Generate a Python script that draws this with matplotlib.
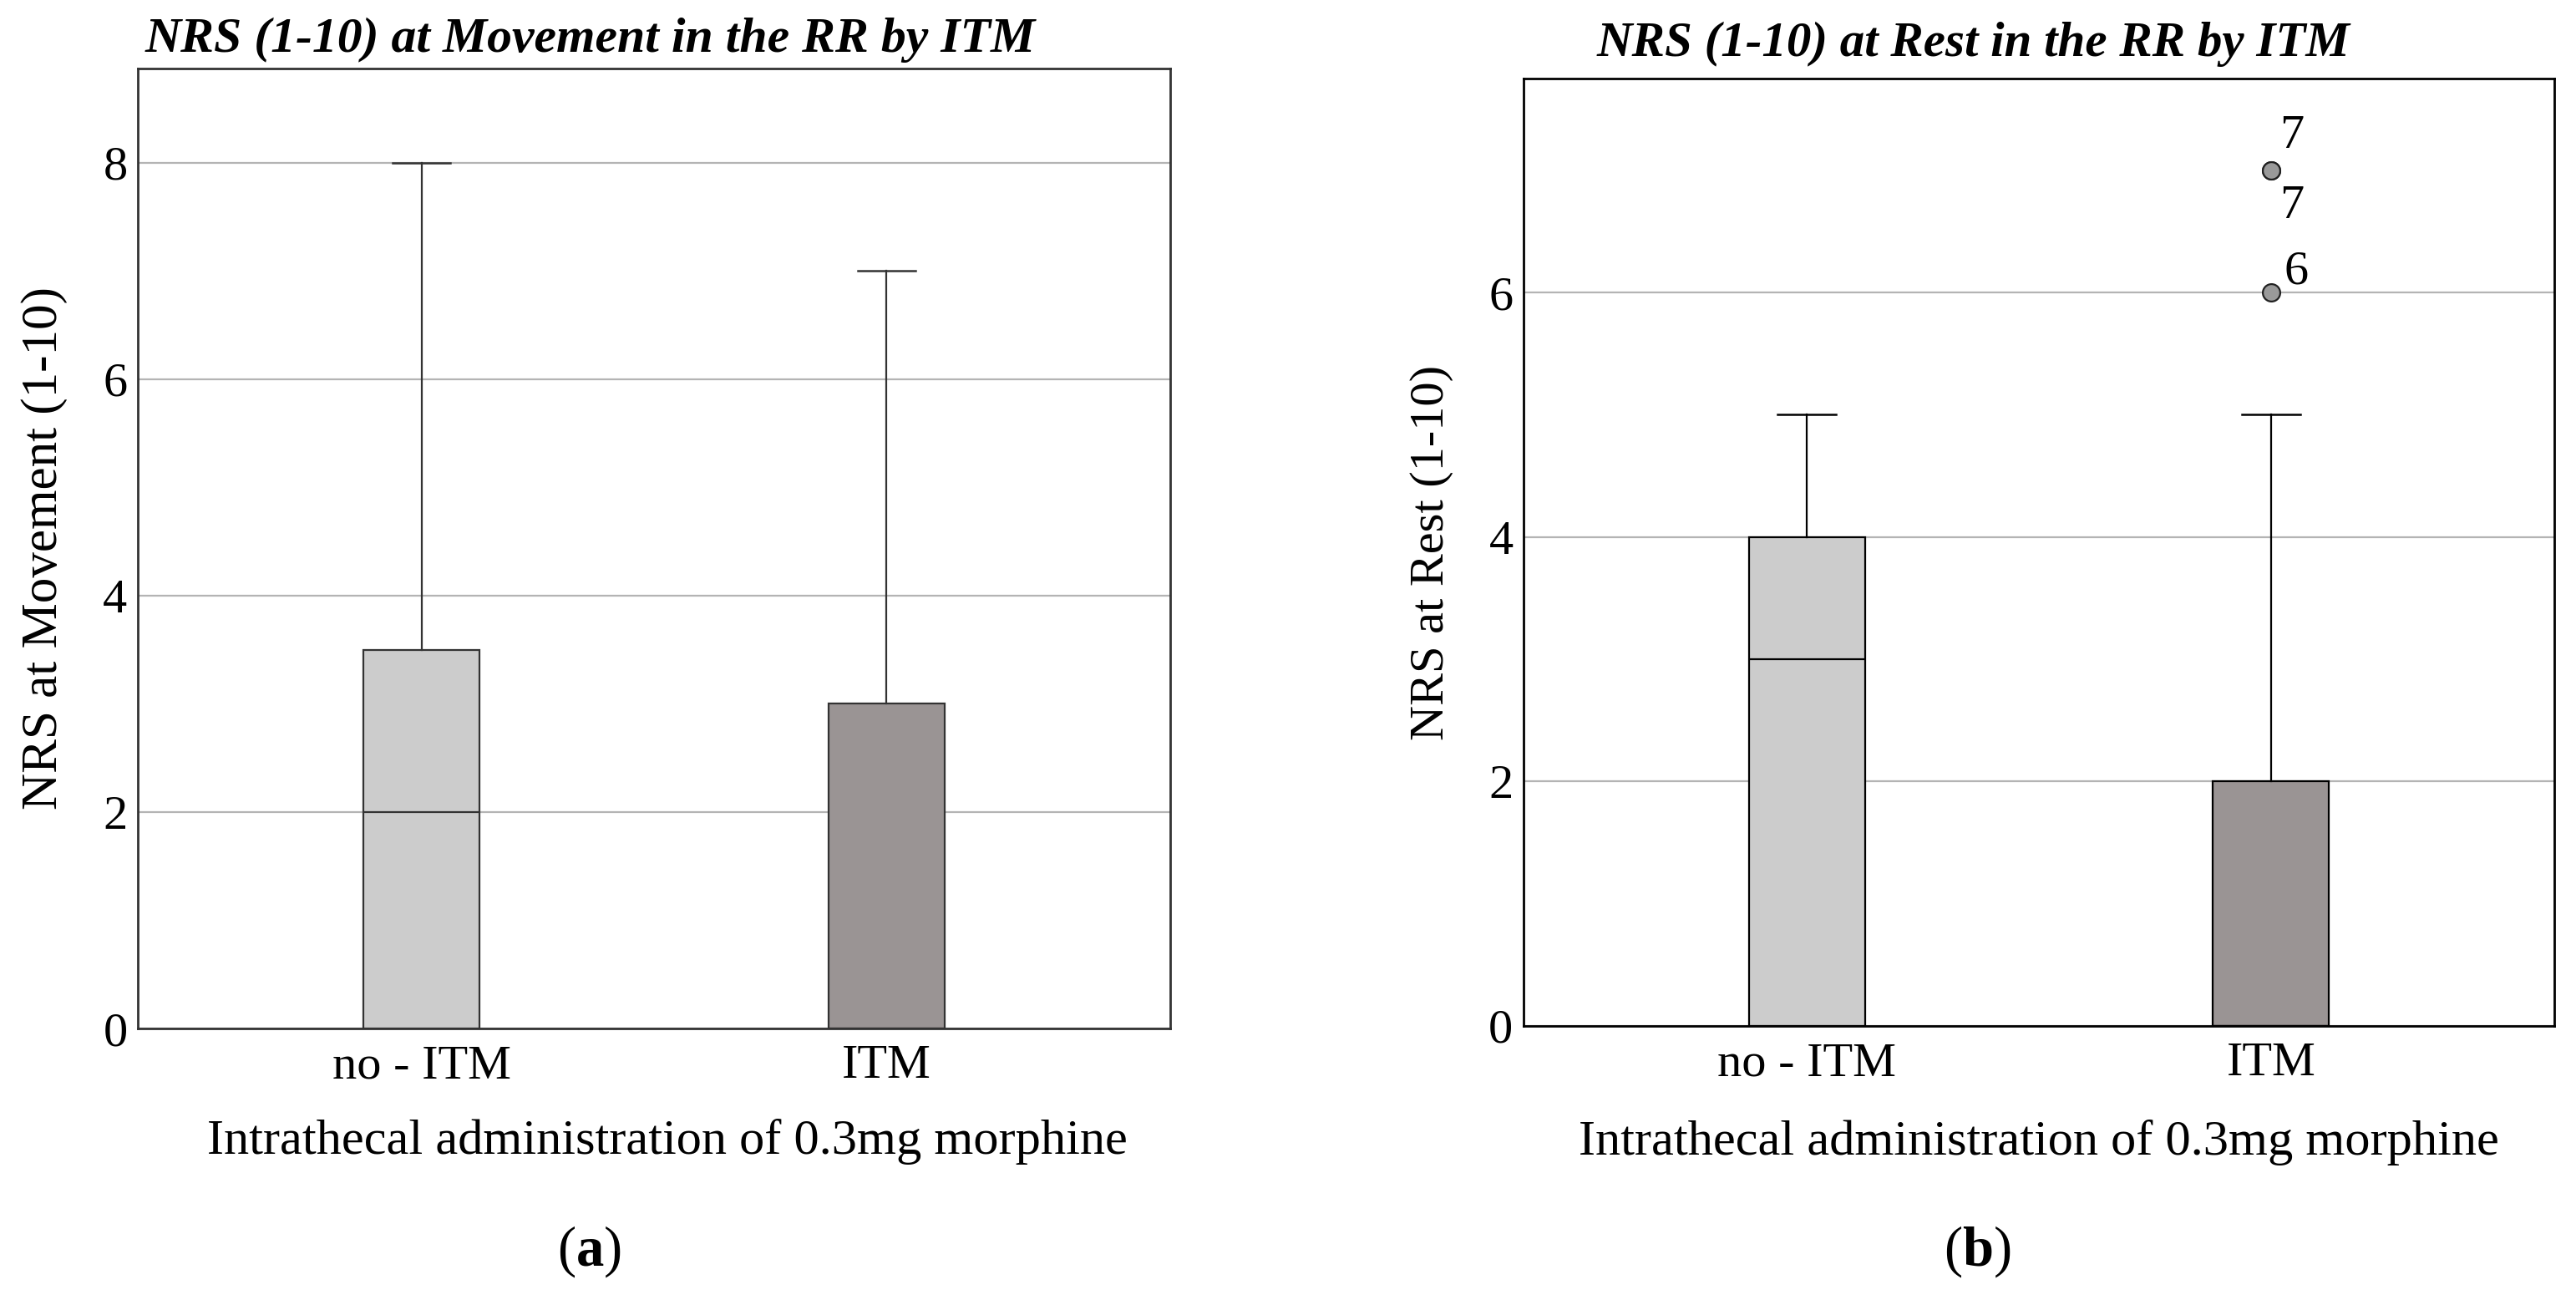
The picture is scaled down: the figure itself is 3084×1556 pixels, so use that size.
import matplotlib
matplotlib.use("Agg")
import matplotlib.pyplot as plt

# ---- data ----
groups = ["no - ITM", "ITM"]

# Panel (a): NRS at movement
mov_whislo = [0, 0]
mov_q1 = [0, 0]
mov_med = [2, 0]
mov_q3 = [3.5, 3]
mov_whishi = [8, 7]
mov_fliers = [[], []]

# Panel (b): NRS at rest
rest_whislo = [0, 0]
rest_q1 = [0, 0]
rest_med = [3, 0]
rest_q3 = [4, 2]
rest_whishi = [5, 5]
rest_fliers = [[], [7, 7, 6]]
rest_flier_labels = [[], ["7", "7", "6"]]

box_colors = ["#cccccc", "#9a9494"]

titles = ["NRS (1-10) at Movement in the RR by ITM", "NRS (1-10) at Rest in the RR by ITM"]
ylabels = ["NRS at Movement (1-10)", "NRS at Rest (1-10)"]
xlabel = "Intrathecal administration of 0.3mg morphine"
panel_letters = ["a", "b"]

plt.rcParams['font.family'] = ['Liberation Serif', 'DejaVu Serif']
plt.rcParams['mathtext.fontset'] = 'custom'
plt.rcParams['mathtext.rm'] = 'Liberation Serif'
plt.rcParams['mathtext.bf'] = 'Liberation Serif:bold'

W, H = 3084, 1556
fig = plt.figure(figsize=(W / 100, H / 100), dpi=100)

ax_a = fig.add_axes([165 / W, 1 - 1231 / H, (1401 - 165) / W, (1231 - 82) / H])
ax_b = fig.add_axes([1824 / W, 1 - 1228 / H, (3058 - 1824) / W, (1228 - 94) / H])


def make_stats(wl, q1, med, q3, wh, fl):
    out = []
    for i in range(len(wl)):
        out.append(dict(whislo=wl[i], q1=q1[i], med=med[i], q3=q3[i], whishi=wh[i], fliers=fl[i]))
    return out


def draw(ax, stats, ylim, yticks, linecol, spinecol):
    bp = ax.bxp(stats, positions=[0, 1], widths=0.25, patch_artist=True, showfliers=True,
                boxprops=dict(edgecolor=linecol, linewidth=1.6),
                medianprops=dict(color=linecol, linewidth=1.6),
                whiskerprops=dict(color=linecol, linewidth=1.6),
                capprops=dict(color=linecol, linewidth=1.8),
                capwidths=0.125,
                flierprops=dict(marker='o', markersize=15, markerfacecolor='#9a9a9a',
                                markeredgecolor='#222222', markeredgewidth=1.6, linestyle='none'),
                zorder=3)
    for patch, c in zip(bp['boxes'], box_colors):
        patch.set_facecolor(c)
    ax.set_xlim(-0.61, 1.61)
    ax.set_ylim(*ylim)
    ax.set_yticks(yticks)
    ax.set_xticks([0, 1])
    ax.set_xticklabels(groups)
    ax.tick_params(axis='both', length=0, labelsize=42)
    ax.tick_params(axis='y', pad=9)
    ax.tick_params(axis='x', pad=14)
    ax.yaxis.grid(True, color='#b4b4b4', linewidth=1.6, zorder=0)
    ax.set_axisbelow(True)
    for s in ax.spines.values():
        s.set_color(spinecol)
        s.set_linewidth(2.0)
    return bp


draw(ax_a, make_stats(mov_whislo, mov_q1, mov_med, mov_q3, mov_whishi, mov_fliers),
     (0, 8.87), [0, 2, 4, 6, 8], '#333333', '#333333')
draw(ax_b, make_stats(rest_whislo, rest_q1, rest_med, rest_q3, rest_whishi, rest_fliers),
     (0, 7.75), [0, 2, 4, 6], 'black', 'black')

# outlier labels (panel b)
offsets = [(7, 29), (7, -31), (11, 18)]
for val, lab, off in zip(rest_fliers[1], rest_flier_labels[1], offsets):
    ax_b.annotate(lab, xy=(1, val), xytext=off, textcoords='offset points',
                  ha='left', va='center', fontsize=42)

for ax, yl, ysize, xl_x, ycoord_x, ycoord_y in [(ax_a, ylabels[0], 44, 0.513, -0.0906, -0.118),
                                                (ax_b, ylabels[1], 42, 0.5, -0.0891, -0.1226)]:
    ax.set_ylabel(yl, fontsize=ysize)
    ax.yaxis.set_label_coords(ycoord_x, 0.5)
    ax.yaxis.label.set_va('center')
    ax.set_xlabel(xlabel, fontsize=43.5)
    ax.xaxis.set_label_coords(xl_x, ycoord_y)
    ax.xaxis.label.set_va('center')

# titles
fig.text(174 / W, 1 - 48 / H, titles[0], ha='left', va='center', fontsize=43,
         fontweight='bold', fontstyle='italic')
fig.text(1912 / W, 1 - 53 / H, titles[1], ha='left', va='center', fontsize=42.5,
         fontweight='bold', fontstyle='italic')

# panel tags
fig.text(705 / W, 1 - 1498 / H, "(" + r"$\mathbf{" + panel_letters[0] + "}$" + ")",
         ha='center', va='center', fontsize=48)
fig.text(2367 / W, 1 - 1498 / H, "(" + r"$\mathbf{" + panel_letters[1] + "}$" + ")",
         ha='center', va='center', fontsize=48)

fig.savefig("out.png", dpi=100, facecolor='white')
